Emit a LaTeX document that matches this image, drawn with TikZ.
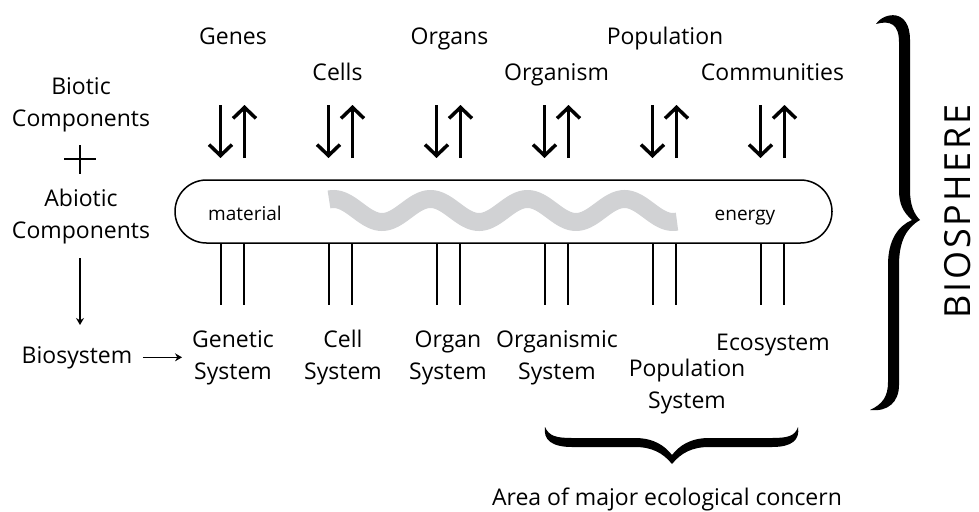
\documentclass[tikz,border=0pt]{standalone}
\usepackage{fontspec}
\setmainfont{Open Sans}
\usepackage{xcolor}
\usetikzlibrary{arrows.meta, positioning}
\definecolor{xamsong}{RGB}{209,210,212}

\begin{document}
\begin{tikzpicture}[x=1pt, y=-1pt,
    nhan/.style={font=\fontsize{23}{32}\selectfont, inner sep=0pt, anchor=base, align=center},
    nhannho/.style={font=\fontsize{19}{22}\selectfont, inner sep=0pt, anchor=base},
    muiten/.style={line width=3.5pt, -{Straight Barb[length=11pt, width=23pt]}},
    muitennho/.style={line width=1.5pt, -{Stealth[length=7pt, width=8pt]}},
    cotdoc/.style={line width=2.2pt},
    netmanh/.style={line width=1.5pt}]
    \useasboundingbox (0,0) rectangle (979,511);

    % Cột trái: thành phần hữu sinh + vô sinh -> hệ sinh học (base = dòng cuối)
    \node[nhan] (huusinh) at (81,126) {Biotic\\Components};
    \coordinate (cong) at (80,159);
    \draw[netmanh] ([xshift=-16pt]cong) -- ([xshift=16pt]cong);
    \draw[netmanh] ([yshift=-14.5pt]cong) -- ([yshift=14.5pt]cong);
    \node[nhan] (vosinh) at (81,238) {Abiotic\\Components};
    \node[nhan] (hesinh) at (77,363) {Biosystem};
    \coordinate (xuong1) at (80,258);
    \coordinate (xuong2) at (80,325);
    \draw[muitennho] (xuong1) -- (xuong2);

    % Hàng trên: các mức tổ chức
    \node[nhan] (genes) at (233,44.5) {Genes};
    \node[nhan] (organs) at (449.5,44.5) {Organs};
    \node[nhan] (popu) at (665,44.5) {Population};
    \node[nhan] (cells) at (337.5,80) {Cells};
    \node[nhan] (organism) at (556.5,80) {Organism};
    \node[nhan] (commu) at (772.5,80) {Communities};

    % Hộp dòng vật chất - năng lượng và sóng xám
    \draw[xamsong, line width=18pt] plot[domain=329:677, samples=140] (\x, {210.5-11.5*cos(3.7113*(\x-333.5))});
    \node[draw, line width=1.5pt, rounded corners=31.5pt, minimum width=657pt, minimum height=63pt, inner sep=0pt] (dong) at (503.5,211.5) {};
    \node[nhannho] (vatchat) at (245,220) {material};
    \node[nhannho] (nangluong) at (745,220) {energy};

    % Sáu cột: mũi tên lên xuống và hai vạch dưới hộp
    \foreach \ten/\cx in {gen/232.5, cell/340.5, organ/448.5, orgm/556.5, pop/664.5, com/772.5}{
        \coordinate (\ten-tren) at (\cx,105);
        \coordinate (\ten-duoi) at (\cx,158);
        \draw[muiten] ([xshift=-12pt]\ten-tren) -- ([xshift=-12pt]\ten-duoi);
        \draw[muiten] ([xshift=12pt]\ten-duoi) -- ([xshift=12pt]\ten-tren);
        \coordinate (\ten-a) at (\cx,243);
        \coordinate (\ten-b) at (\cx,305);
        \draw[cotdoc] ([xshift=-11.5pt]\ten-a) -- ([xshift=-11.5pt]\ten-b);
        \draw[cotdoc] ([xshift=11.5pt]\ten-a) -- ([xshift=11.5pt]\ten-b);
    }

    % Hàng dưới: các hệ thống
    \node[nhan] (htdt) at (233,379) {Genetic\\System};
    \node[nhan] (htbao) at (343,379) {Cell\\System};
    \node[nhan] (htcq) at (448,379) {Organ\\System};
    \node[nhan] (htct) at (557,379) {Organismic\\System};
    \node[nhan] (htqt) at (687,408) {Population\\System};
    \node[nhan] (htst) at (773,350) {Ecosystem};
    \draw[muitennho, shorten <=10.5pt, shorten >=10pt] (hesinh.east) -- (hesinh.east -| htdt.west);

    % Ngoặc lớn bên phải: sinh quyển
    \fill (876,24) .. controls (884,12) and (910,8) .. (910,40) -- (910,190)
        .. controls (910,205) and (914,214) .. (920,220)
        .. controls (906,228) and (899,242) .. (899,265) -- (899,385)
        .. controls (899,402) and (888,412) .. (870,410)
        .. controls (883,404) and (888,396) .. (888,382) -- (888,265)
        .. controls (888,240) and (898,226) .. (912,220)
        .. controls (903,212) and (899,204) .. (899,190) -- (899,42)
        .. controls (899,24) and (890,20) .. (876,24) -- cycle;
    \node[font=\fontsize{36}{40}\selectfont\addfontfeature{LetterSpace=8}, rotate=90, inner sep=0pt] (sinhquyen) at (957.5,211.5) {BIOSPHERE};

    % Ngoặc dưới: vùng quan tâm sinh thái
    \fill (545,427) .. controls (549,436) and (556,438) .. (572,438) -- (635,438)
        .. controls (654,438) and (665,446) .. (672,455)
        .. controls (679,446) and (690,438) .. (709,438) -- (772,438)
        .. controls (788,438) and (795,436) .. (798,427)
        .. controls (800,440) and (792,447) .. (772,447) -- (709,447)
        .. controls (692,447) and (681,453) .. (672,464)
        .. controls (663,453) and (652,447) .. (635,447) -- (572,447)
        .. controls (552,447) and (543,440) .. (545,427) -- cycle;
    \node[nhan] (vungquantam) at (667,505) {Area of major ecological concern};
\end{tikzpicture}
\end{document}
